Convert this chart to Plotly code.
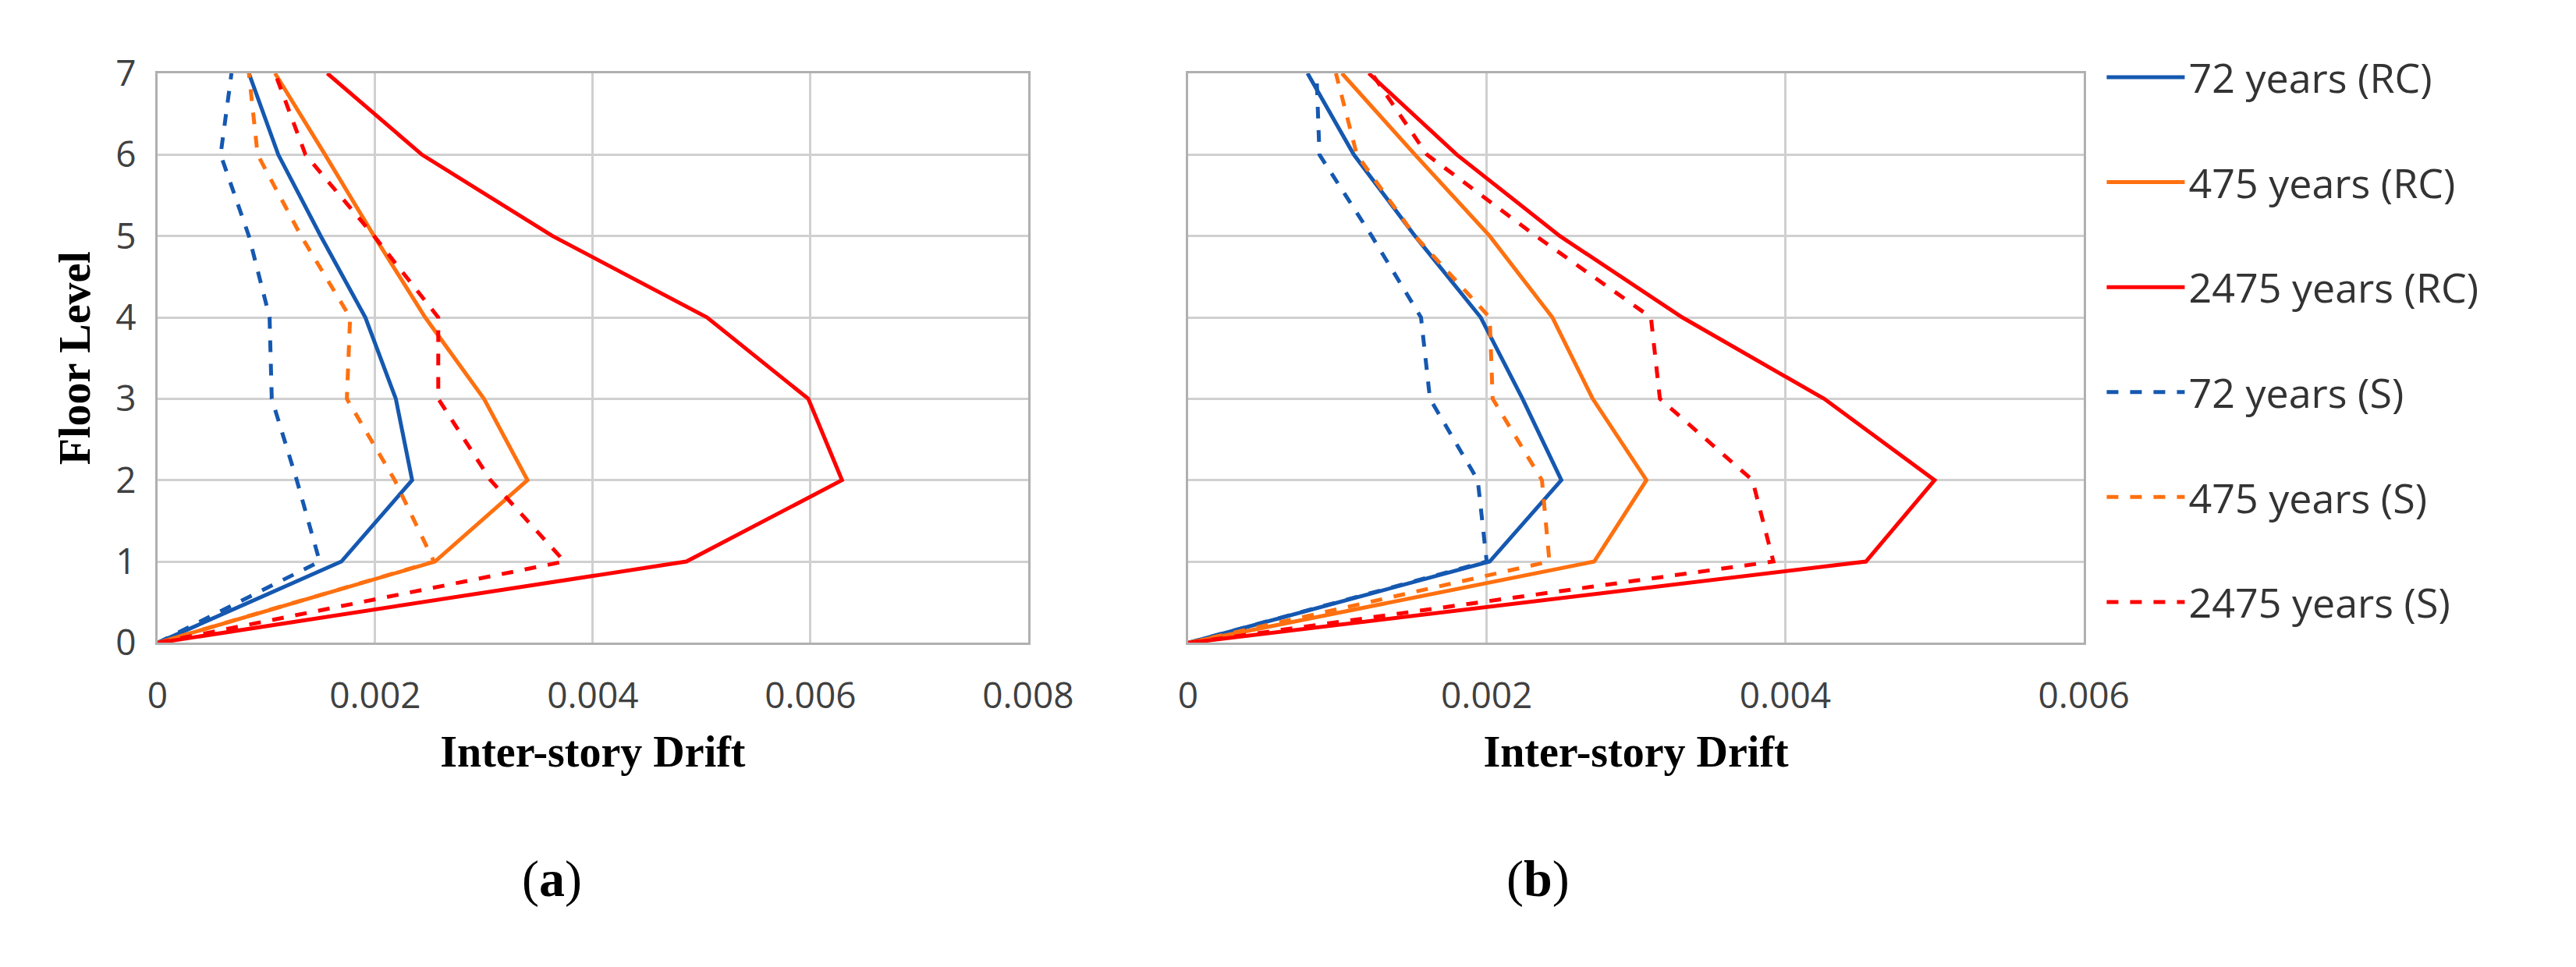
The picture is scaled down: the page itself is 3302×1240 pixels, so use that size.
import plotly.graph_objs as go

floors = [0, 1, 2, 3, 4, 5, 6, 7]

# panel (a)
a_72_rc = [0, 0.00169, 0.00234, 0.00219, 0.00191, 0.00150, 0.00111, 0.00084]
a_475_rc = [0, 0.00255, 0.00340, 0.00300, 0.00246, 0.00199, 0.00154, 0.00108]
a_2475_rc = [0, 0.00486, 0.00629, 0.00598, 0.00505, 0.00363, 0.00243, 0.00156]
a_72_s = [0, 0.00149, 0.00128, 0.00105, 0.00103, 0.00084, 0.00058, 0.00068]
a_475_s = [0, 0.00254, 0.00218, 0.00174, 0.00177, 0.00132, 0.00092, 0.00084]
a_2475_s = [0, 0.00374, 0.00306, 0.00258, 0.00258, 0.00199, 0.00136, 0.00108]

# panel (b)
b_72_rc = [0, 0.00202, 0.00250, 0.00224, 0.00196, 0.00152, 0.00111, 0.00080]
b_475_rc = [0, 0.00272, 0.00307, 0.00271, 0.00244, 0.00202, 0.00152, 0.00103]
b_2475_rc = [0, 0.00454, 0.00500, 0.00426, 0.00331, 0.00249, 0.00180, 0.00121]
b_72_s = [0, 0.00200, 0.00194, 0.00162, 0.00156, 0.00123, 0.00088, 0.00086]
b_475_s = [0, 0.00242, 0.00237, 0.00204, 0.00202, 0.00152, 0.00113, 0.00099]
b_2475_s = [0, 0.00392, 0.00378, 0.00316, 0.00310, 0.00233, 0.00160, 0.00123]

names = ['72 years (RC)', '475 years (RC)', '2475 years (RC)',
         '72 years (S)', '475 years (S)', '2475 years (S)']
colors = ['rgb(21,88,176)', 'rgb(255,112,16)', 'rgb(255,0,0)'] * 2
dashes = ['solid'] * 3 + ['dash'] * 3

series_a = [a_72_rc, a_475_rc, a_2475_rc, a_72_s, a_475_s, a_2475_s]
series_b = [b_72_rc, b_475_rc, b_2475_rc, b_72_s, b_475_s, b_2475_s]

data = []
for i in range(6):
    data.append(go.Scatter(x=series_a[i], y=floors, mode='lines', name=names[i],
                           legendgroup=names[i],
                           line=dict(color=colors[i], width=5, dash=dashes[i]),
                           xaxis='x', yaxis='y'))
    data.append(go.Scatter(x=series_b[i], y=floors, mode='lines', name=names[i],
                           legendgroup=names[i], showlegend=False,
                           line=dict(color=colors[i], width=5, dash=dashes[i]),
                           xaxis='x2', yaxis='y2'))

tickfont = dict(family='Open Sans', size=46, color='#404040')
titlefont = dict(family='Liberation Serif', size=56, color='black')
common = dict(showgrid=True, gridcolor='#d0d0d0', gridwidth=2.5,
              showline=True, linecolor='#b0b0b0', linewidth=3, mirror=True,
              zeroline=False, tickfont=tickfont)

layout = go.Layout(
    width=3302, height=1240,
    margin=dict(l=0, r=0, t=0, b=0),
    plot_bgcolor='white', paper_bgcolor='white',
    xaxis=dict(domain=[0.056, 0.4015], range=[0, 0.008], dtick=0.002,
               tickformat='~g', ticklabelstandoff=25,
               title=dict(text='<b>Inter-story Drift</b>', font=titlefont, standoff=25),
               **common),
    yaxis=dict(domain=[0.335, 0.955], range=[0, 7], dtick=1, ticklabelstandoff=15,
               title=dict(text='<b>Floor Level</b>', font=titlefont, standoff=15),
               **common),
    xaxis2=dict(domain=[0.465, 0.8205], range=[0, 0.006], dtick=0.002,
                tickformat='~g', ticklabelstandoff=25, anchor='y2',
                title=dict(text='<b>Inter-story Drift</b>', font=titlefont, standoff=25),
                **common),
    yaxis2=dict(domain=[0.335, 0.955], range=[0, 7], dtick=1, anchor='x2',
                showticklabels=False, **common),
    legend=dict(x=0.828, y=0.985, xanchor='left', yanchor='top',
                font=dict(family='Open Sans', size=52, color='#333333'),
                tracegroupgap=64, itemwidth=100),
    annotations=[
        dict(text='(<b>a</b>)', x=0.2, y=0.045, xref='paper', yref='paper',
             showarrow=False, font=dict(family='Liberation Serif', size=66, color='black')),
        dict(text='(<b>b</b>)', x=0.604, y=0.045, xref='paper', yref='paper',
             showarrow=False, font=dict(family='Liberation Serif', size=66, color='black')),
    ],
)

fig = go.Figure(data=data, layout=layout)
fig.write_html("out.html")
